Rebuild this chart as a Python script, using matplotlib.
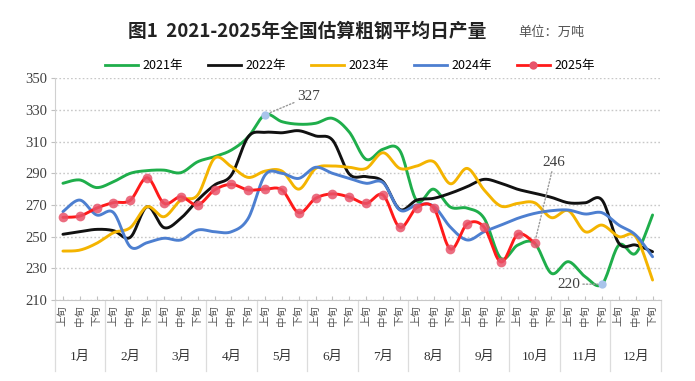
import numpy as np
import matplotlib
matplotlib.use("Agg")
import matplotlib.pyplot as plt
from matplotlib.lines import Line2D

plt.rcParams['font.family'] = ['Noto Sans CJK SC', 'DejaVu Sans']

months = ["1月", "2月", "3月", "4月", "5月", "6月", "7月", "8月", "9月", "10月", "11月", "12月"]
periods = ["上旬", "中旬", "下旬"]
years = ["2021年", "2022年", "2023年", "2024年", "2025年"]

y2021 = [283.7, 285.8, 281.0, 284.7, 290.0, 291.7, 292.0, 290.4, 297.3, 300.5, 304.7, 313.0,
         327.0, 322.6, 321.0, 321.6, 324.7, 316.0, 298.8, 305.2, 304.3, 272.7, 280.0, 268.7,
         268.0, 261.6, 236.3, 244.7, 245.8, 226.8, 234.2, 224.7, 220.0, 244.7, 239.5, 263.7]
y2022 = [251.5, 253.1, 254.6, 253.8, 249.6, 268.9, 255.7, 261.6, 273.1, 282.6, 288.9, 313.1,
         315.9, 315.6, 316.9, 313.6, 311.0, 289.5, 287.9, 284.7, 267.2, 273.1, 274.2, 277.4,
         281.6, 286.2, 283.7, 279.9, 277.4, 274.8, 271.4, 271.4, 273.1, 245.8, 244.7, 240.5]
y2023 = [240.9, 241.5, 245.8, 252.5, 255.7, 268.9, 262.6, 273.1, 276.3, 299.5, 294.2, 287.4,
         291.4, 291.4, 280.0, 293.1, 294.6, 293.8, 293.1, 303.0, 293.1, 294.6, 297.4, 283.4,
         293.1, 279.5, 269.3, 271.0, 271.4, 262.0, 266.4, 253.1, 257.3, 250.0, 250.0, 222.6]
y2024 = [265.8, 273.1, 263.7, 265.2, 243.6, 246.2, 249.0, 247.9, 254.2, 253.1, 253.1, 261.6,
         288.9, 290.0, 286.8, 293.8, 290.0, 286.8, 283.7, 284.1, 266.8, 270.0, 269.3, 256.0,
         247.9, 253.1, 257.3, 261.6, 264.7, 266.4, 266.8, 264.3, 265.1, 257.3, 251.0, 237.3]
y2025 = [262.2, 263.0, 268.0, 271.5, 273.0, 287.2, 271.1, 275.2, 270.0, 279.5, 283.0, 279.5,
         280.0, 279.5, 265.1, 274.2, 277.0, 275.0, 271.0, 276.3, 255.9, 268.3, 268.3, 242.2,
         258.0, 256.0, 234.0, 251.5, 246.0]

colors = ["#1fae4b", "#111111", "#f4b400", "#4d7fd0", "#ff1a1a"]


def smooth(y, n=16):
    y = np.asarray(y, float)
    x = np.arange(len(y), dtype=float)
    px = np.concatenate([[x[0]], x, [x[-1]]])
    py = np.concatenate([[y[0]], y, [y[-1]]])
    xs, ys = [], []
    t = np.linspace(0, 1, n, endpoint=False)
    for i in range(1, len(px) - 2):
        p0x, p1x, p2x, p3x = px[i - 1], px[i], px[i + 1], px[i + 2]
        p0y, p1y, p2y, p3y = py[i - 1], py[i], py[i + 1], py[i + 2]
        c1x = p1x + (p2x - p0x) / 6
        c1y = p1y + (p2y - p0y) / 6
        c2x = p2x - (p3x - p1x) / 6
        c2y = p2y - (p3y - p1y) / 6
        b0 = (1 - t) ** 3
        b1 = 3 * (1 - t) ** 2 * t
        b2 = 3 * (1 - t) * t ** 2
        b3 = t ** 3
        xs.append(b0 * p1x + b1 * c1x + b2 * c2x + b3 * p2x)
        ys.append(b0 * p1y + b1 * c1y + b2 * c2y + b3 * p2y)
    xs.append([x[-1]])
    ys.append([y[-1]])
    return np.concatenate(xs), np.concatenate(ys)


fig = plt.figure(figsize=(6.95, 3.81), dpi=100)
ax = fig.add_axes([54.5 / 695, 81 / 381, 606.5 / 695, 221.7 / 381])

series = [y2021, y2022, y2023, y2024, y2025]
for k, ys in enumerate(series):
    sx, sy = smooth(ys)
    ax.plot(sx, sy, color=colors[k], lw=2.1, zorder=3 + k, solid_capstyle='round')
ax.plot(np.arange(len(y2025)), y2025, ls='none', marker='o', ms=7,
        color='#e8536a', alpha=0.85, zorder=9, mec='none')

ax.set_xlim(-0.5, 35.5)
ax.set_ylim(210, 350)
ax.set_yticks(np.arange(210, 351, 20))
ax.yaxis.grid(True, ls=(0, (1.2, 1.6)), color='#c8c8c8', lw=1.0)
ax.set_axisbelow(True)
for s in ['top', 'right']:
    ax.spines[s].set_visible(False)
ax.spines['left'].set_color('#d0d0d0')
ax.spines['bottom'].set_color('#c8c8c8')
ax.tick_params(axis='y', length=3, color='#c0c0c0', labelsize=10.5, labelcolor='#404040', pad=2)
for lab in ax.get_yticklabels():
    lab.set_family(['Liberation Serif', 'Noto Sans CJK SC'])

ax.set_xticks(np.arange(36))
ax.set_xticklabels([periods[i % 3] for i in range(36)], rotation=90, fontsize=7.5,
                   color='#555555')
ax.tick_params(axis='x', direction='in', length=3, color='#c0c0c0', pad=4)

trans = ax.get_xaxis_transform()
for m in range(13):
    ax.plot([3 * m - 0.5, 3 * m - 0.5], [0, -0.32], color='#dcdcdc', lw=0.9,
            transform=trans, clip_on=False)
for m, name in enumerate(months):
    ax.text(3 * m + 1, -0.255, name, transform=trans, ha='center', va='center',
            fontsize=9.5, color='#333333', family=['Liberation Serif', 'Noto Sans CJK SC'])

# annotations
ax.plot([12], [y2021[12]], 'o', color='#a9c4eb', ms=6, zorder=10, mec='none')
ax.plot([32], [y2021[32]], 'o', color='#a9c4eb', ms=6, zorder=10, mec='none')
aprops = dict(arrowstyle='-', ls=(0, (1, 1.5)), color='#999999', lw=1.0, shrinkA=0, shrinkB=3)
ax.annotate(f"{y2021[12]:.0f}", xy=(12, y2021[12]), xytext=(31, 13), textcoords='offset points',
            ha='center', va='center', fontsize=11, color='#404040',
            family=['Liberation Serif'], arrowprops=aprops, zorder=11)
ax.annotate(f"{y2025[28]:.0f}", xy=(28, y2025[28]), xytext=(14, 58), textcoords='offset points',
            ha='center', va='center', fontsize=11, color='#404040',
            family=['Liberation Serif'], arrowprops=aprops, zorder=11)
ax.annotate(f"{y2021[32]:.0f}", xy=(32, y2021[32]), xytext=(-24, 0), textcoords='offset points',
            ha='center', va='center', fontsize=11, color='#404040',
            family=['Liberation Serif'], arrowprops=aprops, zorder=11)

# title
fig.text(307 / 695, 1 - 31 / 381, "图1  2021-2025年全国估算粗钢平均日产量", ha='center', va='center',
         fontsize=13.5, color='#222222', fontweight='bold')
fig.text(551 / 695, 1 - 32 / 381, "单位：万吨", ha='center', va='center', fontsize=9.5,
         color='#555555')

handles = [Line2D([], [], color=colors[k], lw=2.0) for k in range(4)]
handles.append(Line2D([], [], color=colors[4], lw=2.0, marker='o', ms=6,
                      mfc='#e8536a', mec='none'))
fig.legend(handles, years, loc='center', bbox_to_anchor=(350 / 695, 1 - 66 / 381), ncol=5,
           frameon=False, fontsize=9, handlelength=2.6, columnspacing=2.0, handletextpad=0.4)

fig.savefig("out.png", dpi=100)
